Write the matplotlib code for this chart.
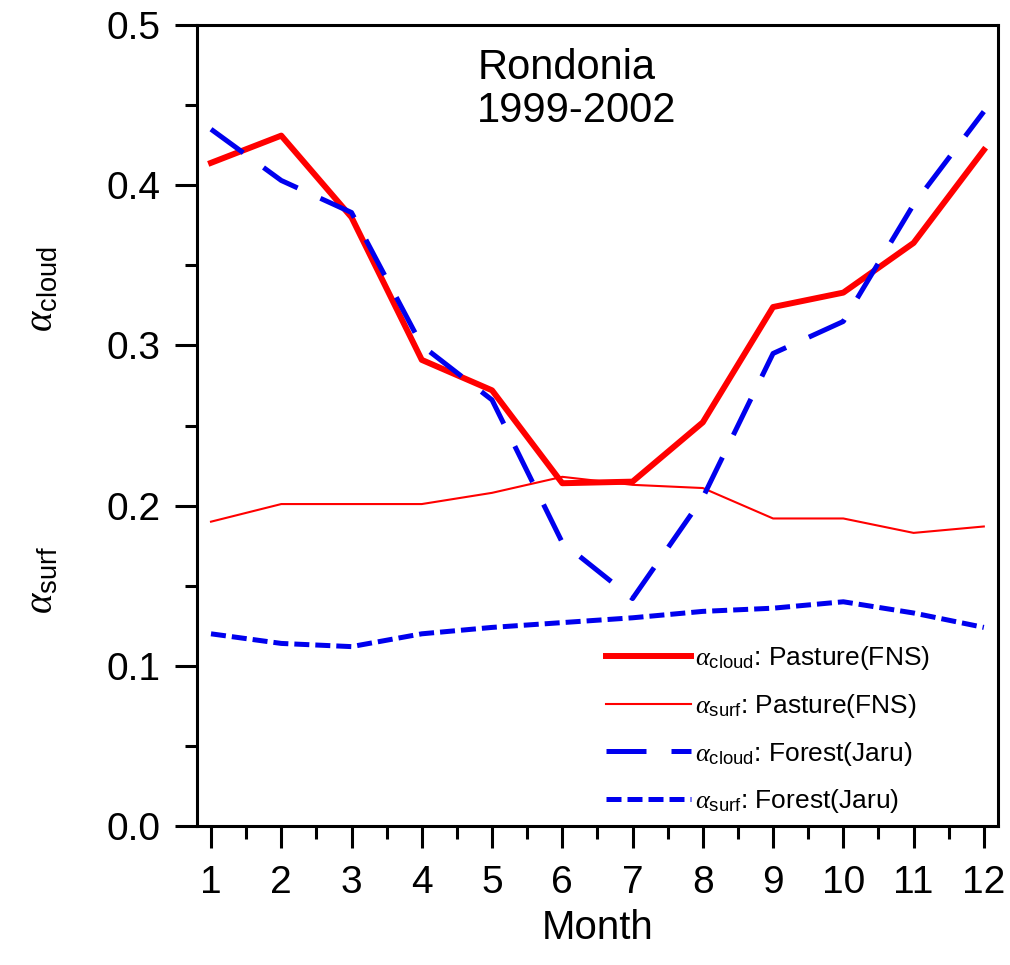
import matplotlib
matplotlib.use("Agg")
import matplotlib.pyplot as plt
from matplotlib.ticker import MultipleLocator

plt.rcParams.update({
    "font.family": "Liberation Sans",
    "mathtext.fontset": "custom",
    "mathtext.rm": "Liberation Sans",
    "mathtext.it": "Liberation Serif:italic",
})

# ── Monthly albedo values ──────────────────────────────────────────────────
months = [1, 2, 3, 4, 5, 6, 7, 8, 9, 10, 11, 12]
cloud_pasture = [0.414, 0.431, 0.380, 0.291, 0.272, 0.214, 0.215, 0.252, 0.324, 0.333, 0.364, 0.422]
surf_pasture = [0.190, 0.201, 0.201, 0.201, 0.208, 0.218, 0.213, 0.211, 0.192, 0.192, 0.183, 0.187]
cloud_forest = [0.435, 0.403, 0.383, 0.300, 0.266, 0.177, 0.142, 0.205, 0.295, 0.315, 0.388, 0.446]
surf_forest = [0.120, 0.114, 0.112, 0.120, 0.124, 0.127, 0.130, 0.134, 0.136, 0.140, 0.133, 0.124]

fig = plt.figure(figsize=(10.10, 9.65), dpi=100)
ax = fig.add_axes([0.195, 0.144, 0.793, 0.830])

ax.plot(months, cloud_pasture, "-", color="#ff0000", lw=4.3,
        label=r"$\alpha_{\mathrm{cloud}}$: Pasture(FNS)")
ax.plot(months, surf_pasture, "-", color="#ff0000", lw=1.5,
        label=r"$\alpha_{\mathrm{surf}}$: Pasture(FNS)")
ax.plot(months, cloud_forest, color="#0000ee", lw=3.6, dashes=(8.0, 5.0),
        label=r"$\alpha_{\mathrm{cloud}}$: Forest(Jaru)")
ax.plot(months, surf_forest, color="#0000ee", lw=3.6, dashes=(3.0, 1.2),
        label=r"$\alpha_{\mathrm{surf}}$: Forest(Jaru)")

ax.set_xlim(0.8, 12.2)
ax.set_ylim(0.0, 0.5)
ax.set_xticks(months)
ax.xaxis.set_minor_locator(MultipleLocator(0.5))
ax.yaxis.set_major_locator(MultipleLocator(0.1))
ax.yaxis.set_minor_locator(MultipleLocator(0.05))
ax.yaxis.set_major_formatter(matplotlib.ticker.FormatStrFormatter("%.1f"))

for s in ax.spines.values():
    s.set_linewidth(2.2)
ax.tick_params(which="both", direction="out", width=2.2, top=False, right=False,
               labelsize=28)
ax.tick_params(which="major", length=16)
ax.tick_params(which="minor", length=9)
ax.tick_params(axis="x", pad=12)
ax.tick_params(axis="y", pad=10)

ax.set_xlabel("Month", fontsize=29, labelpad=6)

fig.text(0.042, 0.70, r"$\alpha_{\mathrm{cloud}}$", rotation=90,
         fontsize=28, ha="center", va="center")
fig.text(0.042, 0.399, r"$\alpha_{\mathrm{surf}}$", rotation=90,
         fontsize=28, ha="center", va="center")

ax.text(0.35, 0.972, "Rondonia\n1999-2002", transform=ax.transAxes,
        fontsize=30, ha="left", va="top", linespacing=1.1)

ax.legend(loc="lower right", bbox_to_anchor=(0.928, 0.0), frameon=False,
          fontsize=19, handlelength=3.2, handletextpad=0.15, labelspacing=0.75,
          borderaxespad=0.0)

fig.savefig("out.png", dpi=100)
